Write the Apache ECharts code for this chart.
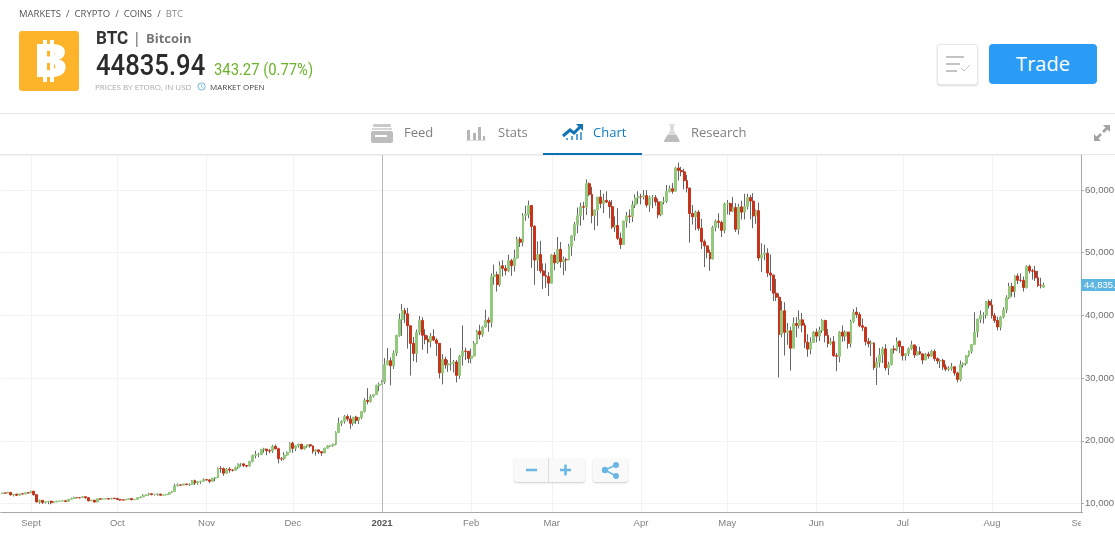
<!DOCTYPE html>
<html lang="en">
<head>
<meta charset="UTF-8">
<title>BTC Chart</title>
<script src="https://cdn.jsdelivr.net/npm/echarts@6/dist/echarts.min.js"></script>
<style>
html, body { margin: 0; padding: 0; background: #fff; overflow: hidden; }
body { width: 1115px; height: 533px; position: relative; font-family: "Open Sans", sans-serif; }
#main { position: absolute; left: 0; top: 0; width: 1115px; height: 533px; }
.a { position: absolute; white-space: nowrap; line-height: 1; }
.tab { font-size: 13px; color: #808080; top: 126px; }
.box { position: absolute; box-sizing: border-box; background: #fff; border-radius: 3px; }
</style>
</head>
<body>
<div id="main"></div>

<!-- the September label is cut off by the edge of the plot -->
<div style="position:absolute;left:1081px;top:514px;width:34px;height:19px;background:#fff"></div>

<!-- page header around the chart -->
<div class="a" style="left:19px;top:9px;font-size:9.5px;color:#555;word-spacing:2.6px">MARKETS / CRYPTO / COINS / <span style="color:#888">BTC</span></div>
<svg class="a" style="left:19px;top:31px" width="60" height="60">
    <rect width="60" height="60" rx="3" fill="#fdb42b"/>
    <rect x="24" y="9" width="4" height="42" fill="#fff"/><rect x="31" y="9" width="4" height="42" fill="#fff"/>
    <text x="14" y="46" font-family="Open Sans" font-weight="800" font-size="46" fill="#fff" textLength="35" lengthAdjust="spacingAndGlyphs">B</text>
</svg>
<div class="a" style="left:96px;top:29px;font-size:18px;font-weight:700;color:#333;font-family:Roboto;transform:scaleX(.95);transform-origin:left">BTC</div>
<div class="a" style="left:133px;top:31px;font-size:14px;color:#555">|</div>
<div class="a" style="left:146px;top:32px;font-size:13px;font-weight:700;color:#777">Bitcoin</div>
<div class="a" style="left:96px;top:51px;font-size:29px;font-weight:500;color:#2b2b2b;font-family:Roboto;transform:scaleX(.885);transform-origin:left">44835.94</div>
<div class="a" style="left:214px;top:62px;font-size:16px;color:#6cb32b;font-family:Roboto;transform:scaleX(.925);transform-origin:left">343.27 (0.77%)</div>
<div class="a" style="left:95px;top:83px;font-size:8px;color:#aaa">PRICES BY ETORO, IN USD</div>
<svg class="a" style="left:197px;top:82px" width="9" height="9"><circle cx="4.5" cy="4.5" r="3.6" fill="none" stroke="#6ab7e6"/><path d="M4.5 2.5V5L6 6" fill="none" stroke="#6ab7e6" stroke-width=".8"/></svg>
<div class="a" style="left:210px;top:83px;font-size:8px;color:#444">MARKET OPEN</div>

<div class="box" style="left:937px;top:44px;width:41px;height:41px;border:1px solid #e8e8e8;box-shadow:0 1px 2px rgba(0,0,0,.15)">
    <svg width="39" height="39"><path d="M8 12h18M8 19h14M8 26h11" stroke="#c4c4c4" stroke-width="2"/><path d="M23 23l3 3 6-6" fill="none" stroke="#c4c4c4"/></svg>
</div>
<div class="box" style="left:989px;top:44px;width:108px;height:40px;background:#2b9cf5;border-radius:4px;color:#fff;font-size:20px;text-align:center;line-height:39px">Trade</div>

<div style="position:absolute;left:0;top:113px;width:1115px;height:1px;background:#e5e5e5"></div>
<div style="position:absolute;left:0;top:154px;width:1115px;height:1px;background:#e8e8e8"></div>
<div style="position:absolute;left:543px;top:153px;width:99px;height:2px;background:#0d6fb0"></div>

<svg class="a" style="left:370px;top:123px" width="24" height="21"><rect x="3" y="1" width="18" height="3" rx="1" fill="#c9c9c9"/><rect x="2" y="5" width="20" height="2" fill="#d6d6d6"/><rect x="1" y="8" width="22" height="12" rx="2" fill="#bdbdbd"/><rect x="5" y="12" width="12" height="2" fill="#fff"/></svg>
<div class="a tab" style="left:404px">Feed</div>
<svg class="a" style="left:466px;top:124px" width="20" height="18"><path d="M1 6h3v10H1zM7 9h3v7H7zM12 3h3v13h-3zM17 12h2v4h-2z" fill="#b5b5b5"/><rect y="16" width="20" height="1" fill="#ddd"/></svg>
<div class="a tab" style="left:498px">Stats</div>
<svg class="a" style="left:562px;top:123px" width="22" height="18"><path d="M1 13L8 7l4 3 7-7" fill="none" stroke="#1273b5" stroke-width="3"/><path d="M14 1h7v7z" fill="#1273b5"/><path d="M4 15h2v2H4zM9 13h2v4H9zM14 11h2v6h-2zM18 9h2v8h-2z" fill="#5aa5d8"/></svg>
<div class="a tab" style="left:593px;color:#0e7cc1">Chart</div>
<svg class="a" style="left:662px;top:123px" width="20" height="20"><path d="M7 1h6v1h-1v6l6 10q0 1-1 1H3q-1 0-1-1L8 8V2H7z" fill="#ddd"/><path d="M5.500 12h9l3 6q0 1-1 1H3q-1 0-1-1z" fill="#bdbdbd"/></svg>
<div class="a tab" style="left:691px">Research</div>
<svg class="a" style="left:1093px;top:124px" width="18" height="18"><path d="M10 1h7v7l-2.500-2.500L11 9 9 7l3.500-3.500zM8 17H1v-7l2.500 2.500L7 9l2 2-3.500 3.500z" fill="#a3a3a3"/></svg>

<!-- zoom and share buttons sit over the plot -->
<div class="box" style="left:514px;top:458px;width:71px;height:24px;background:#f9f9f9;box-shadow:0 1px 2px rgba(0,0,0,.2)">
    <div style="position:absolute;left:34px;top:0;width:1px;height:24px;background:#ddd"></div>
    <svg width="71" height="24"><path d="M12 12h11M46 12h11M51.500 6.500v11" stroke="#6ab7e6" stroke-width="2.500"/></svg>
</div>
<div class="box" style="left:593px;top:458px;width:35px;height:24px;background:#f9f9f9;box-shadow:0 1px 2px rgba(0,0,0,.2)">
    <svg width="35" height="24"><path d="M12 12l11-5M12 12l11 6" stroke="#6ab7e6" stroke-width="1.500"/><circle cx="12" cy="12" r="3.200" fill="#6ab7e6"/><circle cx="23" cy="7" r="3" fill="#6ab7e6"/><circle cx="23" cy="18" r="3" fill="#6ab7e6"/></svg>
</div>

<script type="text/javascript">
// daily BTC candles, 22 Aug 2020 to 19 Aug 2021
var startDate = '2020-08-22';
var dayCount = 376; // the axis runs a little past the last candle

var monthDates = ['2020-09-01', '2020-10-01', '2020-11-01', '2020-12-01', '2021-01-01', '2021-02-01', '2021-03-01', '2021-04-01', '2021-05-01', '2021-06-01', '2021-07-01', '2021-08-01', '2021-09-01'];
var monthLabels = ['Sept', 'Oct', 'Nov', 'Dec', '2021', 'Feb', 'Mar', 'Apr', 'May', 'Jun', 'Jul', 'Aug', 'Sept'];
var lastPrice = 44835.94;

var opens = [
    11590,11680,11660,11775,11370,11470,11320,11540,11510,11710,
    11680,11970,11415,10245,10510,10170,10280,10370,10130,10240,10360,10400,10440,10330,10680,10790,10950,10940,10930,11080,10920,10420,10535,10240,10740,10690,10725,10775,10710,10845,
    10780,10620,10575,10550,10670,10790,10600,10670,10925,11050,11295,11385,11555,11425,11430,11505,11320,11360,11485,11740,11915,12820,12970,12930,13110,13030,13070,13640,13270,13455,13560,
    13800,13760,13550,14030,14130,15580,15565,14830,15480,15330,15300,15700,16280,16320,16070,15960,16720,17650,17800,17820,18660,18680,18415,18370,19110,18730,17150,17140,17720,18180,
    19630,18800,19200,19450,18700,19150,19370,19170,18320,18550,18260,18060,18800,19170,19270,19440,21310,22800,23140,23870,23480,22800,23780,23240,23730,24660,26440,26270,27080,27360,28840,
    29000,29370,32130,32780,31970,33990,36820,39370,40800,40250,38350,35540,33920,37320,39190,36830,36180,35790,36630,36070,35550,30830,33000,32100,32280,32370,32570,30430,33470,34320,34280,
    33110,33520,35510,37470,36930,38140,39270,38900,46200,46480,44920,47910,47500,47110,48720,47940,49130,52150,51680,55890,56100,57530,54200,48820,49700,47090,46340,46190,
    45140,49630,48380,50540,48560,48890,48880,51020,52680,54480,55890,57330,57260,61000,59300,55910,56800,58870,57860,58350,58090,57350,54100,54340,52300,51300,55040,55860,55780,57630,58730,
    58920,58920,59100,57600,58760,58780,58100,56050,58100,58200,59770,60200,59790,63500,63110,62900,61500,60300,56250,55720,56470,53900,51760,51090,50050,49000,54020,55040,54830,53560,
    57750,57830,56630,57210,53730,57300,56470,57360,58800,58230,55860,56700,49150,49700,49920,46760,46430,43540,42900,37000,40730,37300,37540,34770,38700,38400,39290,38440,35700,34620,35680,
    37340,36690,37580,39190,36830,35520,35800,33570,33470,37340,36700,37340,35550,39020,40520,40140,38350,38100,35820,35480,35600,31680,32510,33680,34660,31640,32160,34650,34500,35870,
    35040,33570,33890,34670,35290,33690,34220,33860,32880,33810,33510,34260,33090,32730,32820,31780,31420,31530,31800,30820,29790,32140,32310,33580,34290,35350,37340,39400,40000,40010,42230,
    41630,39970,39200,38150,39750,40870,42820,44610,43830,46290,45600,45590,44430,47790,47100,47050,46000,44800,44500
];
var closes = [
    11680,11660,11775,11370,11470,11320,11540,11510,11710,11680,
    11970,11415,10245,10510,10170,10280,10370,10130,10240,10360,10400,10440,10330,10680,10790,10950,10940,10930,11080,10920,10420,10535,10240,10740,10690,10725,10775,10710,10845,10780,
    10620,10575,10550,10670,10790,10600,10670,10925,11050,11295,11385,11555,11425,11430,11505,11320,11360,11485,11740,11915,12820,12970,12930,13110,13030,13070,13640,13270,13455,13560,13800,
    13760,13550,14030,14130,15580,15565,14830,15480,15330,15300,15700,16280,16320,16070,15960,16720,17650,17800,17820,18660,18680,18415,18370,19110,18730,17150,17140,17720,18180,19630,
    18800,19200,19450,18700,19150,19370,19170,18320,18550,18260,18060,18800,19170,19270,19440,21310,22800,23140,23870,23480,22800,23780,23240,23730,24660,26440,26270,27080,27360,28840,29000,
    29370,32130,32780,31970,33990,36820,39370,40800,40250,38350,35540,33920,37320,39190,36830,36180,35790,36630,36070,35550,30830,33000,32100,32280,32370,32570,30430,33470,34320,34280,33110,
    33520,35510,37470,36930,38140,39270,38900,46200,46480,44920,47910,47500,47110,48720,47940,49130,52150,51680,55890,56100,57530,54200,48820,49700,47090,46340,46190,45140,
    49630,48380,50540,48560,48890,48880,51020,52680,54480,55890,57330,57260,61000,59300,55910,56800,58870,57860,58350,58090,57350,54100,54340,52300,51300,55040,55860,55780,57630,58730,58920,
    58920,59100,57600,58760,58780,58100,56050,58100,58200,59770,60200,59790,63500,63110,62900,61500,60300,56250,55720,56470,53900,51760,51090,50050,49000,54020,55040,54830,53560,57750,
    57830,56630,57210,53730,57300,56470,57360,58800,58230,55860,56700,49150,49700,49920,46760,46430,43540,42900,37000,40730,37300,37540,34770,38700,38400,39290,38440,35700,34620,35680,37340,
    36690,37580,39190,36830,35520,35800,33570,33470,37340,36700,37340,35550,39020,40520,40140,38350,38100,35820,35480,35600,31680,32510,33680,34660,31640,32160,34650,34500,35870,35040,
    33570,33890,34670,35290,33690,34220,33860,32880,33810,33510,34260,33090,32730,32820,31780,31420,31530,31800,30820,29790,32140,32310,33580,34290,35350,37340,39400,40000,40010,42230,41630,
    39970,39200,38150,39750,40870,42820,44610,43830,46290,45600,45590,44430,47790,47100,47050,46000,44800,44800,44835
];
var lows = [
    11530,11590,11640,11300,11130,11180,11280,11470,11500,11600,
    11660,11240,10200,9950,9900,10000,9900,9880,10110,10220,10230,10300,10220,10300,10650,10750,10800,10800,10900,10770,10360,10370,10150,10200,10600,10650,10650,10650,10660,10700,
    10560,10400,10520,10530,10650,10530,10590,10640,10830,11000,11280,11250,11300,11280,11220,11240,11260,11340,11410,11720,11900,12720,12800,12910,12900,12800,13000,12950,12990,13130,13450,
    13650,13250,13500,13550,14100,14900,14400,14750,14900,15100,15280,15500,15900,15800,15750,15900,16550,17200,17400,17770,18100,17700,18000,18050,18650,16400,16800,16900,17620,18170,
    18100,18350,18900,18600,18600,18900,18900,17950,17650,17900,17600,18030,18800,19000,19050,19300,21250,22350,22750,23100,21900,22400,22700,22700,23450,24500,25800,26100,26900,27350,27900,
    28950,29050,32050,28850,31450,33500,36600,36700,38800,34700,30400,32700,32500,36900,34500,35400,33900,34900,35900,33500,29950,29000,31500,31000,31200,30900,29300,29900,32000,32900,32400,
    32350,33450,35400,36200,36600,38050,37400,38100,44900,43800,44600,46200,46400,46900,46300,47000,49050,50900,51000,55100,55500,47600,44900,47100,46700,44200,44400,43100,
    45100,47200,48200,47600,46400,47100,48800,49500,51900,53100,54300,55200,56000,59000,54700,53600,54300,57100,56300,57900,55500,53800,53300,52000,50600,51300,54000,54700,54900,57100,57800,
    57700,58500,57200,56500,57100,57500,55500,55800,57700,57900,59600,59400,59800,61500,62200,60100,59600,51600,54500,53600,53500,50600,47700,49100,47100,48900,53400,53900,52500,53100,
    56100,56000,56500,53300,52900,55300,55300,56900,55300,53900,54600,48700,46900,48800,46100,43900,42300,42300,30100,36500,33600,35300,31200,34800,36500,37900,37300,34800,33400,33800,36000,
    35700,35900,37200,35700,34900,35300,33400,31100,32500,35800,35900,34700,34900,38800,39600,38100,37500,35200,34900,33500,31300,28900,31700,32400,31200,30500,32000,33900,34300,34000,
    32800,32800,33500,34500,33200,33600,33700,32200,32900,33100,33400,32700,32250,31600,31300,31100,31100,31200,30400,29300,29500,31700,32000,33400,33900,35300,36500,38800,38700,39500,41100,
    39500,38800,37600,37600,39500,40400,42600,43000,42900,45000,45300,43800,44300,46700,45700,45500,44500,44300,44400
];
var highs = [
    11690,11720,11850,11780,11530,11600,11550,11580,11720,11770,
    12050,11990,11440,10620,10550,10350,10390,10430,10360,10420,10410,10470,10480,10700,10930,11090,11030,11040,11160,11080,10930,10570,10550,10770,10790,10780,10800,10860,10860,10850,
    10920,10670,10600,10690,10800,10800,10680,10940,11110,11490,11430,11720,11550,11550,11620,11540,11400,11490,11790,12010,13160,13190,13000,13150,13170,13230,13760,13800,13600,13620,14020,
    13900,13850,14060,14230,15750,15940,15750,15650,15800,15450,15900,16400,16480,16320,16150,16800,17800,18400,18100,18700,18880,18680,18700,19350,19400,18900,17400,18200,18300,19800,
    19850,19300,19550,19500,19160,19400,19400,19280,18630,18650,18280,18900,19300,19350,19550,21500,23700,23280,24100,24200,24050,23800,24000,23800,24750,26800,28400,27400,27450,28950,29300,
    29650,33200,34800,33300,34400,36900,40300,41800,41200,41200,38250,36550,37750,39900,39700,37800,36800,37200,37800,36350,35500,33800,33400,32900,34800,32900,32900,33700,38400,34850,34300,
    34700,35900,37700,38500,38350,40900,39700,46700,48100,47000,48600,48800,48050,49700,49000,50500,52550,52500,56300,57500,58300,57500,54400,51800,51900,48300,48300,46900,
    49800,50100,52500,51700,49400,49200,51400,52800,54900,57200,58000,58100,61700,61200,60500,56900,58900,60000,59400,59800,58400,58400,55800,57100,53200,55100,56500,56900,58300,59300,59800,
    59400,60000,60000,59100,59200,59200,58600,58200,58900,60800,60700,61100,63700,64400,63700,63400,62400,60400,57600,56700,56800,55400,52100,51100,50500,54300,55300,56300,55100,58000,
    58400,58000,58900,57900,57800,58300,59400,59400,59200,59500,56900,58000,51500,51300,50700,49700,46500,45800,43500,42300,42100,38800,38200,39700,39700,40800,40400,38800,37000,36500,37500,
    37900,38200,39400,39300,37800,36400,36700,34000,37500,38400,37600,37400,39300,41000,41300,40500,39500,38200,36400,36000,35700,33300,34800,35000,35400,32600,34700,35200,36500,36000,
    35000,34000,34900,35950,35300,35100,35000,33900,34000,34200,34500,34600,33300,33000,33100,32200,31900,32400,31900,31000,32800,32500,33600,34400,35350,40500,39500,40800,40500,42300,42500,
    42600,40400,39800,39900,41300,43200,45200,45200,46400,46700,46700,46200,48000,48100,47400,47900,47100,46000,45200
];

var days = [];
for (var i = 0; i < dayCount; i++) {
    days.push(new Date(Date.parse(startDate) + i * 86400000).toISOString().slice(0, 10));
}

// a candlestick series paints wick and body one colour, so wicks go in one
// series and the coloured bodies are laid over them in a second one
var wickData = opens.map(function (o, i) { return [o, closes[i], lows[i], highs[i]]; });
var bodyData = opens.map(function (o, i) {
    return [o, closes[i], Math.min(o, closes[i]), Math.max(o, closes[i])];
});

function isMonthStart(index, value) {
    return monthDates.indexOf(value) >= 0;
}

var myChart = echarts.init(document.getElementById('main'));

var option = {
    animation: false,
    grid: { left: 0.8, right: 32.4, top: 155, bottom: 21, outerBoundsMode: 'none' },
    xAxis: {
        type: 'category',
        data: days,
        axisLine: { onZero: false, lineStyle: { color: '#a8a8a8' } },
        axisTick: { alignWithLabel: true, interval: isMonthStart, length: 4, lineStyle: { color: '#a8a8a8' } },
        axisLabel: {
            interval: isMonthStart,
            hideOverlap: false,
            margin: 6,
            fontSize: 9.5,
            fontFamily: 'Liberation Sans',
            color: '#808080',
            formatter: function (value) {
                var label = monthLabels[monthDates.indexOf(value)];
                return label === '2021' ? '{year|2021}' : label;
            },
            rich: { year: { fontSize: 9.5, fontFamily: 'Liberation Sans', fontWeight: 'bold', color: '#555' } }
        },
        splitLine: { show: true, alignWithLabel: true, interval: isMonthStart, lineStyle: { color: '#f2f2f2' } }
    },
    yAxis: {
        type: 'value',
        position: 'right',
        offset: -1.6,
        min: 8644,
        max: 65580,
        splitNumber: 5,
        axisLine: { show: true, lineStyle: { color: '#a8a8a8' } },
        axisTick: { show: true, length: 3, lineStyle: { color: '#a8a8a8' } },
        axisLabel: {
            showMinLabel: false,
            showMaxLabel: false,
            margin: 4,
            fontSize: 9.5,
            fontFamily: 'Liberation Sans',
            color: '#707070'
        },
        splitLine: { lineStyle: { color: '#f2f2f2' } }
    },
    series: [
        {
            name: 'wicks',
            type: 'candlestick',
            barWidth: 1,
            silent: true,
            itemStyle: { color: '#666', color0: '#666', borderColor: '#666', borderColor0: '#666', borderColorDoji: '#666', borderWidth: 1 },
            data: wickData,
            markLine: {
                silent: true,
                symbol: 'none',
                animation: false,
                data: [
                    { xAxis: '2021-01-01', lineStyle: { color: '#b8b8b8', width: 1, type: 'solid' }, label: { show: false } },
                    {
                        yAxis: lastPrice,
                        lineStyle: { color: 'rgba(0,0,0,0)' },
                        label: {
                            position: 'end',
                            distance: -1.6,
                            formatter: '44,835.94',
                            fontSize: 9.5,
                            fontFamily: 'Liberation Sans',
                            color: '#fff',
                            backgroundColor: '#5fb5e2',
                            padding: [1, 8, 1, 3]
                        }
                    }
                ]
            }
        },
        {
            name: 'bodies',
            type: 'candlestick',
            barWidth: 2.4,
            barGap: '-100%',
            silent: true,
            itemStyle: { color: '#93c97d', color0: '#c8331b', borderColor: '#93c97d', borderColor0: '#c8331b', borderColorDoji: '#c8331b', borderWidth: 1 },
            data: bodyData
        }
    ]
};

myChart.setOption(option);
</script>
</body>
</html>
